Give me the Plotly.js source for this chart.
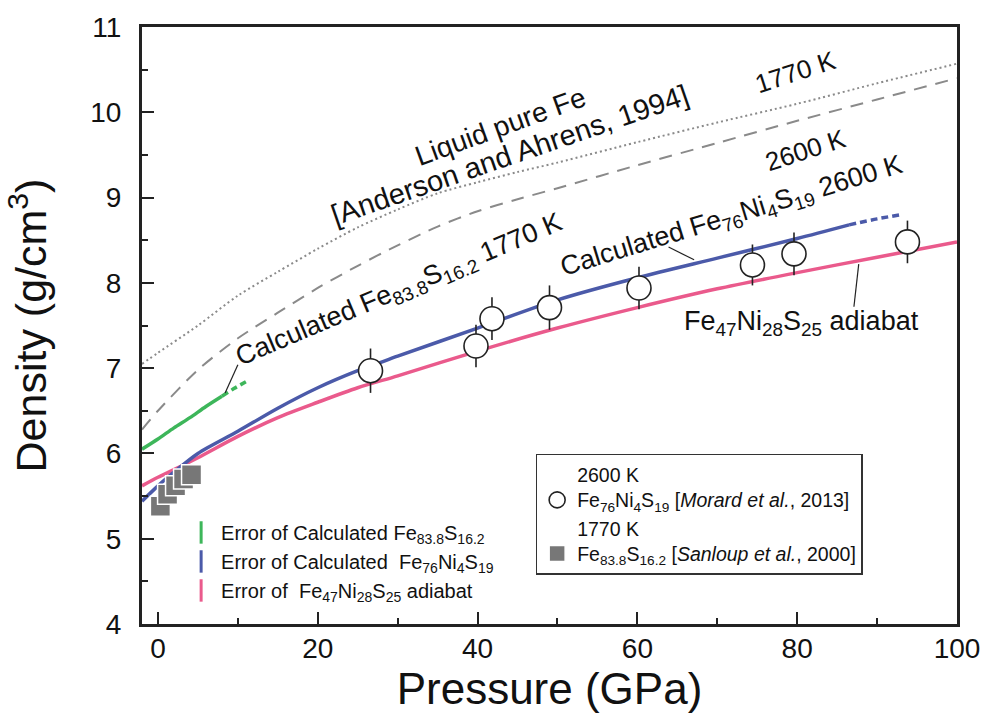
<!DOCTYPE html>
<html>
<head>
<meta charset="utf-8">
<script src="https://cdn.plot.ly/plotly-3.0.1.min.js"></script>
<style>html,body{margin:0;padding:0;background:#fff;}#chart{width:987px;height:726px;}</style>
</head>
<body>
<div id="chart"></div>
<script>
// ---- data ----
const fePressure = [-2,0,5,10,15,20,25,30,35,40,45,50,60,70,80,90,100];
const feDensity1770 = [7.05,7.18,7.50,7.85,8.13,8.40,8.65,8.86,9.05,9.18,9.30,9.41,9.65,9.88,10.10,10.34,10.57];
const feDensity2600 = [6.28,6.50,6.98,7.35,7.65,7.94,8.20,8.44,8.66,8.84,8.98,9.11,9.38,9.64,9.90,10.15,10.40];

const feSCalcP = [-2,0,2,4,6,8];
const feSCalcRho = [6.05,6.17,6.30,6.42,6.55,6.67];
const feSExtrapP = [8,9.5,11];
const feSExtrapRho = [6.67,6.76,6.84];

const feNiSCalcP = [-2,0,2,5,10,15,20,25,30,40,50,60,70,80,86.5];
const feNiSCalcRho = [5.44,5.62,5.78,6.00,6.26,6.53,6.77,6.97,7.14,7.47,7.80,8.06,8.29,8.52,8.68];
const feNiSExtrapP = [86.5,90,93];
const feNiSExtrapRho = [8.68,8.75,8.80];

const adiabatP = [-2,0,2,5,10,15,20,25,30,40,50,60,70,80,90,100];
const adiabatRho = [5.62,5.72,5.81,5.95,6.20,6.42,6.60,6.77,6.91,7.20,7.47,7.71,7.93,8.12,8.30,8.48];

const morardP = [26.6,39.8,41.8,49.0,60.2,74.4,79.6,93.8];
const morardRho = [6.97,7.26,7.58,7.71,7.94,8.21,8.34,8.48];
const morardErr = [0.26,0.25,0.25,0.26,0.25,0.24,0.25,0.25];

const sanloupP = [0.3,1.2,2.2,3.2,4.2];
const sanloupRho = [5.38,5.52,5.62,5.70,5.75];

// ---- styles ----
const FONT = 'Liberation Sans, Arial, sans-serif';
const GREEN = '#3db65a', BLUE = '#4b5aa9', PINK = '#ea5a8c', GREY = '#8a8a8a';
const SMOOTH = {shape: 'spline', smoothing: 0.8};

const traces = [
  {x: fePressure, y: feDensity1770, mode: 'lines', line: Object.assign({color: GREY, width: 2, dash: '2px,3px'}, SMOOTH), showlegend: false},
  {x: fePressure, y: feDensity2600, mode: 'lines', line: Object.assign({color: GREY, width: 2, dash: '13px,9px'}, SMOOTH), showlegend: false},
  {x: feSCalcP, y: feSCalcRho, mode: 'lines', line: Object.assign({color: GREEN, width: 3.5}, SMOOTH), showlegend: false},
  {x: feSExtrapP, y: feSExtrapRho, mode: 'lines', line: Object.assign({color: GREEN, width: 3.5, dash: '7px,4px'}, SMOOTH), showlegend: false},
  {x: adiabatP, y: adiabatRho, mode: 'lines', line: Object.assign({color: PINK, width: 3.5}, SMOOTH), showlegend: false},
  {x: feNiSCalcP, y: feNiSCalcRho, mode: 'lines', line: Object.assign({color: BLUE, width: 3.5}, SMOOTH), showlegend: false},
  {x: feNiSExtrapP, y: feNiSExtrapRho, mode: 'lines', line: Object.assign({color: BLUE, width: 3.5, dash: '7px,4px'}, SMOOTH), showlegend: false},
  {x: sanloupP, y: sanloupRho, mode: 'markers', legend: 'legend2', legendrank: 2,
   name: '1770 K<br>Fe<sub>83.8</sub>S<sub>16.2</sub> [<i>Sanloup et al.</i>, 2000]',
   marker: {symbol: 'square', size: 20, color: '#777777', line: {color: '#ffffff', width: 1.5}}},
  {x: morardP, y: morardRho, mode: 'markers', legend: 'legend2', legendrank: 1,
   name: '2600 K<br>Fe<sub>76</sub>Ni<sub>4</sub>S<sub>19</sub> [<i>Morard et al.</i>, 2013]',
   error_y: {type: 'data', array: morardErr, visible: true, color: '#222', thickness: 1.6, width: 0},
   marker: {symbol: 'circle', size: 24, color: '#ffffff', line: {color: '#222', width: 1.6}}},
  // legend keys for the error lines
  {x: [null], y: [null], mode: 'markers', name: 'Error of Calculated Fe<sub>83.8</sub>S<sub>16.2</sub>', legendrank: 1,
   marker: {symbol: 'line-ns', size: 16, line: {color: GREEN, width: 3}}},
  {x: [null], y: [null], mode: 'markers', name: 'Error of Calculated  Fe<sub>76</sub>Ni<sub>4</sub>S<sub>19</sub>', legendrank: 2,
   marker: {symbol: 'line-ns', size: 16, line: {color: BLUE, width: 3}}},
  {x: [null], y: [null], mode: 'markers', name: 'Error of  Fe<sub>47</sub>Ni<sub>28</sub>S<sub>25</sub> adiabat', legendrank: 3,
   marker: {symbol: 'line-ns', size: 16, line: {color: PINK, width: 3}}}
];

function ann(text, x, y, angle, size) {
  return {text: text, x: x, y: y, xref: 'x', yref: 'y', showarrow: false, textangle: angle,
          font: {family: FONT, size: size, color: '#111'}};
}

const layout = {
  width: 987, height: 726,
  margin: {l: 142, r: 30, t: 27, b: 102},
  paper_bgcolor: '#ffffff', plot_bgcolor: '#ffffff',
  font: {family: FONT, color: '#111'},
  xaxis: {
    range: [-2, 100], tick0: 0, dtick: 20, ticks: 'inside', ticklen: 12, tickwidth: 2, tickcolor: '#222',
    minor: {dtick: 10, ticks: 'inside', ticklen: 6, tickwidth: 2, tickcolor: '#222'},
    showline: true, linewidth: 3, linecolor: '#222', mirror: true, showgrid: false, zeroline: false,
    tickfont: {family: FONT, size: 28, color: '#111'}, ticklabelstandoff: -3, automargin: false,
    title: {text: 'Pressure (GPa)', font: {family: FONT, size: 44, color: '#111'}, standoff: 0}
  },
  yaxis: {
    range: [4, 11], tick0: 4, dtick: 1, ticks: 'inside', ticklen: 12, tickwidth: 2, tickcolor: '#222',
    minor: {dtick: 0.5, ticks: 'inside', ticklen: 6, tickwidth: 2, tickcolor: '#222'},
    showline: true, linewidth: 3, linecolor: '#222', mirror: true, showgrid: false, zeroline: false,
    tickfont: {family: FONT, size: 28, color: '#111'}, ticklabelstandoff: 12, automargin: false,
    title: {text: 'Density (g/cm<sup>3</sup>)', font: {family: FONT, size: 43, color: '#111'}, standoff: 31}
  },
  legend: {x: 0.048, y: 0.186, xanchor: 'left', yanchor: 'top', bgcolor: 'rgba(0,0,0,0)',
           font: {family: FONT, size: 20, color: '#111'}, itemwidth: 30},
  legend2: {x: 0.483, y: 0.285, xanchor: 'left', yanchor: 'top', bgcolor: '#ffffff',
            bordercolor: '#333', borderwidth: 1.5, valign: 'bottom',
            font: {family: FONT, size: 19.5, color: '#111'}, itemwidth: 30},
  annotations: [
    ann('Liquid pure Fe', 42.9, 9.83, -20, 28),
    ann('[Anderson and Ahrens, 1994]', 44.0, 9.50, -19, 29),
    ann('1770 K', 79.8, 10.47, -18, 26),
    ann('2600 K', 81.1, 9.56, -18, 26),
    ann('Calculated Fe<sub>83.8</sub>S<sub>16.2</sub> 1770 K', 30.2, 7.90, -23, 27),
    ann('Calculated Fe<sub>76</sub>Ni<sub>4</sub>S<sub>19</sub> 2600 K', 71.9, 8.77, -17, 27),
    ann('Fe<sub>47</sub>Ni<sub>28</sub>S<sub>25</sub> adiabat', 80.6, 7.53, 0, 27)
  ],
  shapes: [
    {type: 'line', xref: 'x', yref: 'y', x0: 10.0, y0: 7.04, x1: 8.4, y1: 6.71, line: {color: '#222', width: 1.2}},
    {type: 'line', xref: 'x', yref: 'y', x0: 63.9, y0: 8.42, x1: 67.1, y1: 8.27, line: {color: '#222', width: 1.2}},
    {type: 'line', xref: 'x', yref: 'y', x0: 87.7, y0: 8.22, x1: 87.1, y1: 7.72, line: {color: '#222', width: 1.2}}
  ]
};

Plotly.newPlot('chart', traces, layout, {staticPlot: true, displayModeBar: false});
</script>
</body>
</html>
